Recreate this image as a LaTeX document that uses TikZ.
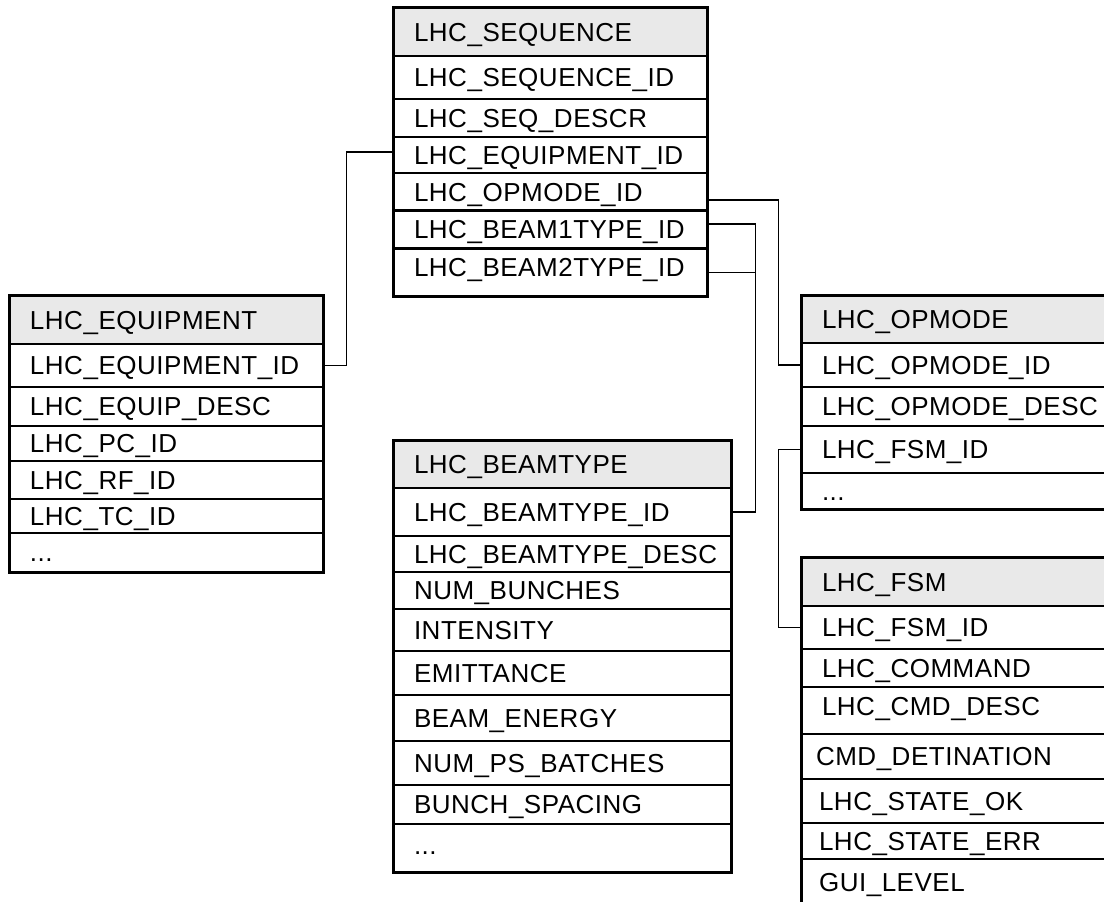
\documentclass[tikz,border=0pt]{standalone}
\usepackage{fontspec}
\newfontfamily\fnt[LetterSpace=2]{Liberation Sans}
\definecolor{hdrgray}{HTML}{E9E9E9}
\hyphenpenalty=10000
\exhyphenpenalty=10000
\begin{document}
\begin{tikzpicture}[x=1pt,y=-1pt,
  cell/.style={draw, line width=1.5pt, inner xsep=20pt, inner ysep=0pt, align=left,
    text height=18.6pt, text depth=0pt, font=\fnt\fontsize{26}{31}\selectfont},
  hdr/.style={cell, fill=hdrgray, line width=2.3pt},
  frame/.style={line width=2pt},
  conn/.style={line width=1.4pt},
  seqw/.style={text width=273pt},
  eqw/.style={text width=273pt},
  btw/.style={text width=297pt},
  opw/.style={text width=280pt},
]
\useasboundingbox (0,0) rectangle (1104,902);
\clip (0,0) rectangle (1104,902);

% LHC_SEQUENCE
\node[cell,seqw,minimum height=43] (seqid) at (550.5,77.5) {LHC\_SEQUENCE\_ID};
\node[cell,seqw,minimum height=38] (seqds) at (550.5,118) {LHC\_SEQ\_DESCR};
\node[cell,seqw,minimum height=36] (seqeq) at (550.5,155) {LHC\_EQUIPMENT\_ID};
\node[cell,seqw,minimum height=38] (seqop) at (550.5,192) {LHC\_OPMODE\_ID};
\node[cell,seqw,minimum height=38] (seqb1) at (550.5,229) {LHC\_BEAM1TYPE\_ID};
\node[cell,seqw,minimum height=47,text depth=11pt] (seqb2) at (550.5,272.5) {LHC\_BEAM2TYPE\_ID};
\node[hdr,seqw,minimum height=48,text depth=0pt] (seqh) at (550.5,32) {LHC\_SEQUENCE};
\draw[frame] (seqh.north west) rectangle (seqb2.south east);

% LHC_EQUIPMENT
\node[cell,eqw,minimum height=43,text depth=0pt] (eqid) at (166.5,365.5) {LHC\_EQUIPMENT\_ID};
\node[cell,eqw,minimum height=39] (eqds) at (166.5,406.5) {LHC\_EQUIP\_DESC};
\node[cell,eqw,minimum height=35] (eqpc) at (166.5,443.5) {LHC\_PC\_ID};
\node[cell,eqw,minimum height=38] (eqrf) at (166.5,480) {LHC\_RF\_ID};
\node[cell,eqw,minimum height=34] (eqtc) at (166.5,516) {LHC\_TC\_ID};
\node[cell,eqw,minimum height=39] (eqmore) at (166.5,552.5) {...};
\node[hdr,eqw,minimum height=48] (eqh) at (166.5,320) {LHC\_EQUIPMENT};
\draw[frame] (eqh.north west) rectangle (eqmore.south east);

% LHC_BEAMTYPE
\node[cell,btw,minimum height=48] (btid) at (562.5,512) {LHC\_BEAMTYPE\_ID};
\node[cell,btw,minimum height=36] (btds) at (562.5,554) {LHC\_BEAMTYPE\_DESC};
\node[cell,btw,minimum height=37] (btnb) at (562.5,590.5) {NUM\_BUNCHES};
\node[cell,btw,minimum height=42] (btin) at (562.5,630) {INTENSITY};
\node[cell,btw,minimum height=44] (btem) at (562.5,673) {EMITTANCE};
\node[cell,btw,minimum height=46] (bten) at (562.5,718) {BEAM\_ENERGY};
\node[cell,btw,minimum height=44] (btps) at (562.5,763) {NUM\_PS\_BATCHES};
\node[cell,btw,minimum height=39] (btsp) at (562.5,804.5) {BUNCH\_SPACING};
\node[cell,btw,minimum height=48,text depth=6pt] (btmore) at (562.5,848) {...};
\node[hdr,btw,minimum height=47] (bth) at (562.5,464.5) {LHC\_BEAMTYPE};
\draw[frame] (bth.north west) rectangle (btmore.south east);

% LHC_OPMODE
\node[cell,opw,minimum height=44] (opid) at (962,365) {LHC\_OPMODE\_ID};
\node[cell,opw,minimum height=39] (opds) at (962,406.5) {LHC\_OPMODE\_DESC};
\node[cell,opw,minimum height=47] (opfsm) at (962,449.5) {LHC\_FSM\_ID};
\node[cell,opw,minimum height=36] (opmore) at (962,491) {...};
\node[hdr,opw,minimum height=47] (oph) at (962,319.5) {LHC\_OPMODE};
\draw[frame] (oph.north west) rectangle (opmore.south east);

% LHC_FSM
\node[cell,opw,minimum height=43] (fsmid) at (962,627.5) {LHC\_FSM\_ID};
\node[cell,opw,minimum height=38] (fsmcm) at (962,668) {LHC\_COMMAND};
\node[cell,opw,minimum height=47,text depth=9pt] (fsmcd) at (962,710.5) {LHC\_CMD\_DESC};
\node[cell,opw,minimum height=45] (fsmdt) at (962,756.5) {\hspace*{-6pt}CMD\_DETINATION};
\node[cell,opw,minimum height=44] (fsmok) at (962,801) {\hspace*{-3pt}LHC\_STATE\_OK};
\node[cell,opw,minimum height=36] (fsmer) at (962,841) {\hspace*{-3pt}LHC\_STATE\_ERR};
\node[cell,opw,minimum height=46] (fsmgl) at (962,882) {\hspace*{-3pt}GUI\_LEVEL};
\node[hdr,opw,minimum height=48] (fsmh) at (962,582) {LHC\_FSM};
\draw[frame] (fsmh.north west) rectangle (fsmgl.south east);

% connectors
\draw[conn] ([yshift=3pt]seqeq.west) -- ++(-47,0) |- (eqid.east);
\draw[conn] ([yshift=-8pt]seqop.east) -- ++(71,0) |- (opid.west);
\draw[conn] ([yshift=5pt]seqb1.east) -- ++(48,0) |- (btid.east);
\draw[conn] (seqb2.east) -- ++(48,0);
\draw[conn] (opfsm.west) -- ++(-23,0) |- (fsmid.west);
\end{tikzpicture}
\end{document}
